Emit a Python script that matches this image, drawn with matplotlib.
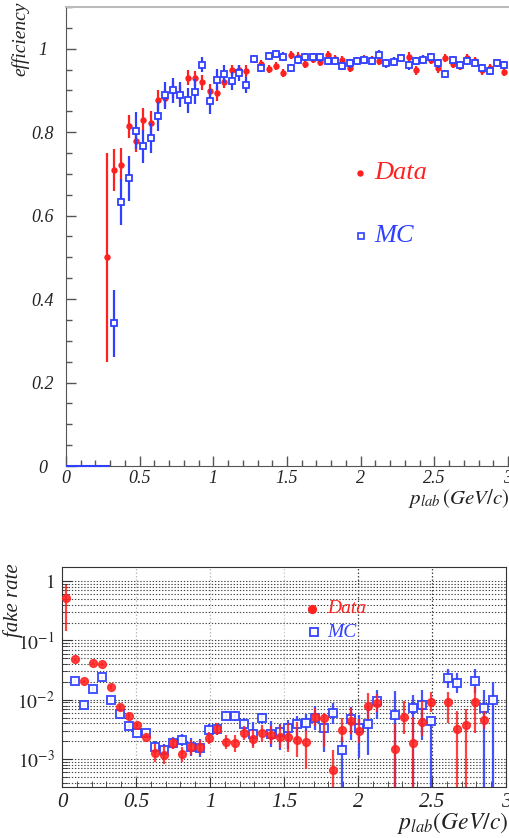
import numpy as np
import matplotlib
matplotlib.use("Agg")
import matplotlib.pyplot as plt
from matplotlib.ticker import MultipleLocator, FuncFormatter, LogLocator, NullFormatter

plt.rcParams['mathtext.fontset'] = 'stix'
SERIF = 'Liberation Serif'
RED = '#ff2020'
BLUE = '#3040ff'

# ---------------- efficiency data (top panel) ----------------
eff_data_x = np.round(0.275 + 0.05 * np.arange(55), 3)
eff_data = [0.50, 0.71, 0.722, 0.814, 0.78, 0.83, 0.822, 0.877, 0.882, 0.902,
            0.892, 0.930, 0.929, 0.92, 0.898, 0.893, 0.921, 0.948, 0.948, 0.946,
            0.976, 0.963, 0.951, 0.958, 0.942, 0.985, 0.981, 0.964, 0.976, 0.969,
            0.985, 0.976, 0.972, 0.954, 0.970, 0.974, 0.972, 0.970, 0.966, 0.970,
            0.978, 0.981, 0.948, 0.976, 0.973, 0.953, 0.977, 0.964, 0.958, 0.978,
            0.970, 0.948, 0.953, 0.966, 0.944]
eff_data_err = [0.25, 0.05, 0.04, 0.028, 0.028, 0.028, 0.028, 0.025, 0.022, 0.02,
                0.02, 0.018, 0.018, 0.018, 0.018, 0.018, 0.016, 0.014, 0.014, 0.014] + [0.01] * 35

eff_mc_x = np.round(0.325 + 0.05 * np.arange(54), 3)
eff_mc = [0.342, 0.633, 0.689, 0.804, 0.766, 0.785, 0.838, 0.888, 0.90, 0.89,
          0.876, 0.897, 0.962, 0.874, 0.926, 0.94, 0.922, 0.942, 0.913, 0.976,
          0.954, 0.982, 0.988, 0.981, 0.954, 0.974, 0.980, 0.980, 0.979, 0.970,
          0.970, 0.958, 0.965, 0.970, 0.973, 0.970, 0.986, 0.965, 0.969, 0.977,
          0.960, 0.970, 0.974, 0.980, 0.965, 0.940, 0.973, 0.961, 0.970, 0.966,
          0.954, 0.946, 0.966, 0.961]
eff_mc_err = [0.08, 0.055, 0.054, 0.045, 0.04, 0.036, 0.034, 0.032, 0.03, 0.03,
              0.03, 0.03, 0.018, 0.03, 0.025, 0.022, 0.022, 0.02, 0.02] + [0.01] * 35
eff_mc_zero_x = [0.025, 0.075, 0.125, 0.175, 0.225, 0.275]
eff_mc_zero = [0, 0, 0, 0, 0, 0]

# ---------------- fake rate data (bottom panel) ----------------
nan = np.nan
fake_x = np.round(0.03 + 0.06 * np.arange(50), 3)
fake_data = [0.51, 0.048, 0.0204, 0.041, 0.0394, 0.0163, 0.0076, 0.0053, 0.0038, 0.0024,
             0.00129, 0.00117, 0.00184, 0.0012, 0.00158, 0.00158, 0.00229, 0.00322, 0.00196, 0.00184,
             0.00277, 0.00217, 0.00271, 0.00254, 0.0024, 0.00232, 0.00214, 0.00196, 0.0051, 0.0050,
             0.00067, 0.0031, 0.0044, 0.0030, 0.0079, 0.0087, nan, 0.00151, 0.0051, 0.00188,
             0.0043, 0.0093, nan, 0.0090, 0.0032, 0.0037, 0.0090, 0.0046, nan, nan]
# errors in decades (up, down)
fake_data_up = [0.22, 0.03, 0.03, 0.03, 0.03, 0.03, 0.03, 0.03, 0.03, 0.03,
                0.15, 0.15, 0.1, 0.13, 0.12, 0.12, 0.1, 0.1, 0.12, 0.15,
                0.12, 0.15, 0.15, 0.15, 0.2, 0.25, 0.3, 0.2, 0.15, 0.08,
                0.33, 0.2, 0.22, 0.2, 0.22, 0.15, nan, 0.42, 0.28, 0.44,
                0.34, 0.17, nan, 0.18, 0.3, 0.28, 0.26, 0.15, nan, nan]
fake_data_dn = [0.55, 0.03, 0.03, 0.03, 0.03, 0.03, 0.03, 0.03, 0.03, 0.03,
                0.15, 0.15, 0.1, 0.13, 0.12, 0.12, 0.1, 0.1, 0.12, 0.15,
                0.12, 0.15, 0.15, 0.15, 0.2, 0.25, 0.3, 0.45, 0.15, 0.5,
                3, 0.2, 0.22, 0.2, 0.22, 0.15, nan, 3, 0.28, 3,
                0.25, 0.17, nan, 0.35, 3, 3, 0.52, 0.15, nan, nan]

fake_mc = [nan, 0.0206, 0.0081, 0.0151, 0.0238, 0.0101, 0.00575, 0.00365, 0.0028, 0.00277,
           0.00161, 0.00141, 0.00188, 0.00208, 0.00158, 0.00155, 0.0031, 0.00316, 0.0054, 0.0053,
           0.0039, 0.00263, 0.00485, 0.00263, 0.00288, 0.0033, 0.00385, 0.0041, 0.0050, 0.0033,
           0.0060, 0.00141, 0.0047, 0.0033, 0.0039, 0.0096, nan, 0.0056, nan, 0.0072,
           0.0083, 0.0044, nan, 0.0229, 0.019, nan, 0.0209, 0.0072, 0.0101, nan]
fake_mc_up = [nan, 0.03, 0.03, 0.03, 0.03, 0.03, 0.03, 0.03, 0.03, 0.03,
              0.1, 0.1, 0.1, 0.1, 0.15, 0.15, 0.1, 0.1, 0.08, 0.08,
              0.1, 0.2, 0.1, 0.22, 0.14, 0.14, 0.14, 0.15, 0.2, 0.11,
              0.16, 0.22, 0.2, 0.22, 0.32, 0.18, nan, 0.4, nan, 0.22,
              0.25, 0.05, nan, 0.16, 0.17, nan, 0.19, 0.3, 0.3, nan]
fake_mc_dn = [nan, 0.03, 0.03, 0.03, 0.03, 0.03, 0.03, 0.03, 0.03, 0.03,
              0.1, 0.1, 0.1, 0.1, 0.15, 0.15, 0.1, 0.1, 0.08, 0.08,
              0.1, 0.2, 0.1, 0.22, 0.31, 0.34, 0.26, 0.15, 0.2, 0.39,
              0.18, 3, 0.35, 0.5, 0.52, 0.3, nan, 3, nan, 3,
              0.6, 3, nan, 0.16, 0.17, nan, 0.21, 3, 3, nan]

fig = plt.figure(figsize=(5.09, 8.38), dpi=100)

# ================= TOP PANEL =================
ax1 = fig.add_axes([66 / 509, 1 - 466 / 838, 442 / 509, 459 / 838])
ax1.set_xlim(0, 3)
ax1.set_ylim(0, 1.1)

ax1.errorbar(eff_mc_zero_x, eff_mc_zero, xerr=0.025, fmt='none', ecolor=BLUE, elinewidth=1.5, clip_on=False, zorder=3)
ax1.errorbar(eff_data_x, eff_data, yerr=eff_data_err, xerr=0.008, fmt='o', color=RED, ms=3.6,
             ecolor=RED, elinewidth=1.6, capsize=0, zorder=4)
ax1.errorbar(eff_mc_x, eff_mc, yerr=eff_mc_err, fmt='s', mfc='white', mec=BLUE, mew=1.3, ms=4.5,
             ecolor=BLUE, elinewidth=1.6, capsize=0, zorder=5)

ax1.xaxis.set_major_locator(MultipleLocator(0.5))
ax1.xaxis.set_minor_locator(MultipleLocator(0.1))
ax1.yaxis.set_major_locator(MultipleLocator(0.2))
ax1.yaxis.set_minor_locator(MultipleLocator(0.05))
fmt = FuncFormatter(lambda v, p: f'{v:g}')
ax1.xaxis.set_major_formatter(fmt)
ax1.yaxis.set_major_formatter(fmt)
ax1.tick_params(which='both', direction='in', colors='#555555', top=False, right=False)
ax1.tick_params(which='major', length=7, width=1)
ax1.tick_params(which='minor', length=4, width=1)
ax1.tick_params(axis='x', pad=3)
ax1.tick_params(axis='y', pad=17)
for lab in ax1.get_xticklabels() + ax1.get_yticklabels():
    lab.set_fontfamily(SERIF)
    lab.set_fontstyle('italic')
    lab.set_fontsize(13)
    lab.set_color('#222222')
for lab in ax1.get_yticklabels():
    lab.set_horizontalalignment('center')
ax1.spines['left'].set_color('#555555')
ax1.spines['bottom'].set_color('#555555')
ax1.spines['top'].set_color('#bbbbbb')
ax1.spines['top'].set_linewidth(1.5)
ax1.spines['right'].set_visible(False)

fig.text(20 / 509, 1 - 2 / 838, 'efficiency', rotation=90, ha='center', va='top',
         fontfamily=SERIF, fontstyle='italic', fontsize=14, color='#222222')
fig.text(1.0, 1 - 487 / 838, r'$p_{lab}\,(GeV/c)$', ha='right', va='top', fontsize=15, color='#222222')

# legend (top)
ax1.plot([1.995], [0.702], 'o', color=RED, ms=3.6, zorder=6)
ax1.text(2.09, 0.702, 'Data', color=RED, fontfamily=SERIF, fontstyle='italic', fontsize=19, va='center')
ax1.plot([2.0], [0.551], 's', mfc='white', mec=BLUE, mew=1.2, ms=4.5, zorder=6)
ax1.text(2.09, 0.551, 'MC', color=BLUE, fontfamily=SERIF, fontstyle='italic', fontsize=19, va='center')

# ================= BOTTOM PANEL =================
ax2 = fig.add_axes([62 / 509, 1 - 787 / 838, 444 / 509, 220 / 838])
ax2.set_yscale('log')
ax2.set_xlim(0, 3)
ax2.set_ylim(3.4e-4, 1.72)

# grid
ax2.yaxis.set_major_locator(LogLocator(base=10, numticks=10))
ax2.yaxis.set_minor_locator(LogLocator(base=10, subs=np.arange(2, 10), numticks=10))
ax2.grid(True, which='both', axis='y', linestyle=(0, (1.2, 1.6)), color='#444444', linewidth=0.8)
for xv, c in [(0.5, '#bbbbbb'), (1.0, '#bbbbbb'), (1.5, '#cccccc'), (2.0, '#444444'), (2.5, '#444444')]:
    ax2.axvline(xv, linestyle=(0, (1.2, 1.6)), color=c, linewidth=0.9, zorder=0.5)

fake_x_a = np.array(fake_x)
fd = np.array(fake_data)
fdu = fd * (10 ** np.array(fake_data_up) - 1)
fdd = fd * (1 - 10 ** (-np.array(fake_data_dn)))
fm = np.array(fake_mc)
fmu = fm * (10 ** np.array(fake_mc_up) - 1)
fmd = fm * (1 - 10 ** (-np.array(fake_mc_dn)))

ax2.errorbar(fake_x_a, fm, yerr=[fmd, fmu], fmt='s', mfc='white', mec=BLUE, mew=1.4, ms=6,
             ecolor=BLUE, elinewidth=1.6, capsize=0, alpha=0.9, zorder=4)
ax2.errorbar(fake_x_a, fd, yerr=[fdd, fdu], fmt='o', color=RED, ms=5.6,
             ecolor=RED, elinewidth=1.6, capsize=0, alpha=0.85, zorder=5)

ax2.xaxis.set_major_locator(MultipleLocator(0.5))
ax2.xaxis.set_minor_locator(MultipleLocator(0.1))
ax2.xaxis.set_major_formatter(fmt)

def logfmt(v, p):
    e = int(round(np.log10(v)))
    if e == 0:
        return r'$\mathit{1}$'
    return r'$\mathit{10^{%d}}$' % e
ax2.yaxis.set_major_formatter(FuncFormatter(logfmt))
ax2.yaxis.set_minor_formatter(NullFormatter())
ax2.tick_params(which='both', direction='in', colors='#333333', top=False, right=False)
ax2.tick_params(which='major', length=7)
ax2.tick_params(which='minor', length=4)
ax2.tick_params(axis='x', pad=4)
ax2.tick_params(axis='y', pad=5)
for lab in ax2.get_xticklabels():
    lab.set_fontfamily(SERIF)
    lab.set_fontstyle('italic')
    lab.set_fontsize(15)
    lab.set_color('#222222')
for lab in ax2.get_yticklabels():
    lab.set_fontsize(14)
    lab.set_color('#222222')
for s in ax2.spines.values():
    s.set_color('#333333')

fig.text(13 / 509, 1 - 563 / 838, 'fake rate', rotation=90, ha='center', va='top',
         fontfamily=SERIF, fontstyle='italic', fontsize=15, color='#222222')
fig.text(1.0, 1 - 823 / 838, r'$p_{lab}(GeV/c)$', ha='right', va='center', fontsize=17, color='#222222')

# legend (bottom)
ax2.plot([1.69], [0.34], 'o', color=RED, ms=5.6, zorder=6)
ax2.text(1.79, 0.34, 'Data', color=RED, fontfamily=SERIF, fontstyle='italic', fontsize=14, va='center')
ax2.plot([1.70], [0.138], 's', mfc='white', mec=BLUE, mew=1.3, ms=6, zorder=6)
ax2.text(1.79, 0.138, 'MC', color=BLUE, fontfamily=SERIF, fontstyle='italic', fontsize=14, va='center')

fig.savefig('out.png', dpi=100)
